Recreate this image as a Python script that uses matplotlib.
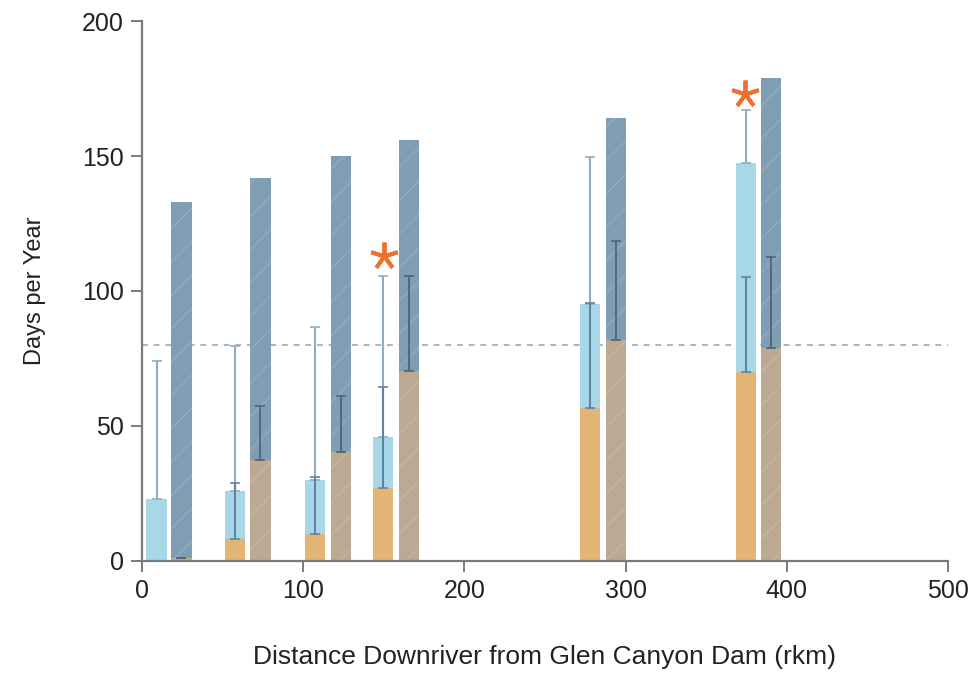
import matplotlib
matplotlib.use('Agg')
import matplotlib.pyplot as plt

plt.rcParams['font.family'] = ['Liberation Sans', 'DejaVu Sans']
plt.rcParams['hatch.linewidth'] = 1.0

# site positions (rkm) of the two bars in each pair
x_light = [9, 57.5, 107.5, 149.5, 278, 374.5]
x_dark = [24.5, 73.5, 123.5, 165.5, 294, 390]

# light bars: total (light blue) and lower part (orange)
light_total = [23, 26, 30, 46, 95, 147.5]
light_lower = [0, 8, 10, 27, 56.5, 70]
light_total_err = [74, 79.5, 86.5, 105.5, 149.5, 167]
light_lower_err = [0, 29, 31, 64.5, 95.5, 105]

# dark bars: total (slate) and lower part (tan)
dark_total = [133, 142, 150, 156, 164, 179]
dark_lower = [1, 37.5, 40.5, 70.5, 82, 79]
dark_lower_err = [1, 57.5, 61, 105.5, 118.5, 112.5]

threshold = 80
stars_x = [150, 374]
stars_y = [113, 173]

width = 12.5
c_light = '#a8d8e8'
c_orange = '#e2b577'
c_dark = '#7f9db3'
c_tan = '#bba993'
gray = '#7a7a7a'

fig = plt.figure(figsize=(9.78, 6.78), dpi=100)
ax = fig.add_axes([0.1452, 0.1726, 0.8241, 0.7964])

ax.bar(x_light, light_total, width=width, color=c_light, lw=0, zorder=2)
ax.bar(x_light, light_lower, width=width, color=c_orange, lw=0, zorder=2)
ax.bar(x_dark, dark_total, width=width, color=c_dark, lw=0, zorder=2,
       hatch='/', edgecolor=(1, 1, 1, 0.15))
ax.bar(x_dark, dark_lower, width=width, color=c_tan, lw=0, zorder=2,
       hatch='/', edgecolor=(1, 1, 1, 0.15))

# error bars (upper only)
ax.errorbar(x_light, light_total,
            yerr=[[0] * 6, [u - t for u, t in zip(light_total_err, light_total)]],
            fmt='none', ecolor='#93abc2', elinewidth=1.5, capsize=3.5, capthick=1.2, zorder=3)
ax.errorbar(x_light, light_lower,
            yerr=[[0] * 6, [u - t for u, t in zip(light_lower_err, light_lower)]],
            fmt='none', ecolor='#5f84a3', elinewidth=1.5, capsize=3.5, capthick=1.2, zorder=3)
ax.errorbar(x_dark, dark_lower,
            yerr=[[0] * 6, [u - t for u, t in zip(dark_lower_err, dark_lower)]],
            fmt='none', ecolor='#4e6479', elinewidth=1.3, capsize=3.5, capthick=1.2, zorder=3)

ax.axhline(threshold, color='#a5a5a5', lw=1.2, ls=(0, (3.5, 3.5)), zorder=1)

ax.plot(stars_x, stars_y, ls='none', marker=(5, 2, 0), ms=20, mew=2.8,
        color='#f07030', zorder=4)

ax.set_xlim(0, 500)
ax.set_ylim(0, 200)
ax.set_xticks([0, 100, 200, 300, 400, 500])
ax.set_yticks([0, 50, 100, 150, 200])
for s in ['top', 'right']:
    ax.spines[s].set_visible(False)
for s in ['left', 'bottom']:
    ax.spines[s].set_color(gray)
    ax.spines[s].set_linewidth(1.6)
ax.tick_params(length=8, width=1.4, color=gray, labelsize=18, pad=5,
               labelcolor='#222222')

ax.set_xlabel('Distance Downriver from Glen Canyon Dam (rkm)', fontsize=19,
              labelpad=30, color='#222222')
ax.set_ylabel('Days per Year', fontsize=17, labelpad=26, color='#222222')

fig.savefig('out.png', dpi=100)
